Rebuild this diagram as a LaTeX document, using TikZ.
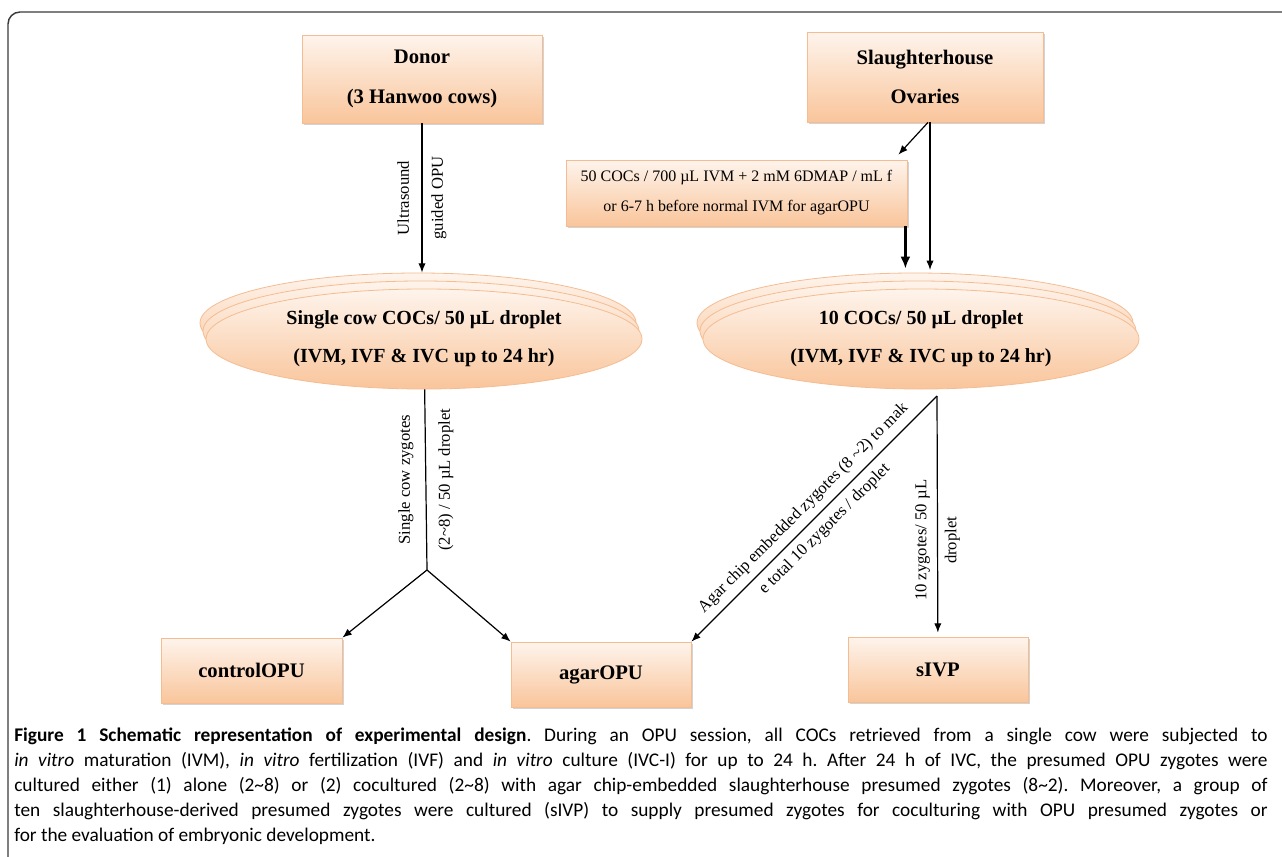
\documentclass[tikz,border=0pt]{standalone}
\usepackage{fontspec}
\setmainfont{Liberation Serif}
\newfontfamily\capfont{Carlito}
\usetikzlibrary{arrows.meta,shapes.geometric,shadows}
\definecolor{peachtop}{HTML}{FEF4EC}
\definecolor{peachbot}{HTML}{F9C59B}
\definecolor{peachline}{HTML}{F5BC91}
\definecolor{framegray}{HTML}{3A3A3A}
\newcommand\pxu{0.75pt}
\frenchspacing
\begin{document}
\begin{tikzpicture}[x=0.75pt,y=-0.75pt]
\tikzset{
  stagebox/.style 2 args={draw=peachline,line width=0.6pt,top color=peachtop,bottom color=peachbot,
    drop shadow={shadow xshift=1.2pt,shadow yshift=-1.2pt,opacity=0.35},
    minimum width=#1*\pxu,minimum height=#2*\pxu,inner sep=0pt,align=center},
  droplet/.style={ellipse,draw=peachline,line width=0.6pt,top color=peachtop,bottom color=peachbot,
    minimum width=436*\pxu,minimum height=100*\pxu,inner sep=0pt,align=center},
  conn/.style={-{Latex[length=7pt,width=5.5pt]},line width=0.9pt},
  lab/.style={font=\fontsize{12.5}{#1}\selectfont,align=center,inner sep=0pt}
}
\useasboundingbox (0,0) rectangle (1282,857);
\draw[framegray,line width=1.1pt,rounded corners=9pt] (8,857) -- (8,12) -- (1282,12);
% sources
\node (donor) at (422,79) [stagebox={240}{88},font=\bfseries\fontsize{15.5}{30}\selectfont] {Donor\\(3 Hanwoo cows)};
\node (slhouse) at (925,77) [stagebox={236}{90},font=\bfseries\fontsize{15.5}{29.25}\selectfont] {Slaughterhouse\\Ovaries};
\node (cocs) at (736.5,193) [stagebox={341}{66},font=\fontsize{12}{22.5}\selectfont] {50 COCs / 700 µL IVM + 2 mM 6DMAP / mL f\\or 6-7 h before normal IVM for agarOPU};
% droplets, three layers each
\node (singleC) at (418,323) [droplet] {};
\node (singleB) at (421,331) [droplet] {};
\node (single) at (424,339) [droplet,font=\bfseries\fontsize{15}{28.5}\selectfont] {Single cow COCs/ 50 µL droplet\\(IVM, IVF \& IVC up to 24 hr)};
\node (tenC) at (915,323) [droplet] {};
\node (tenB) at (918,331) [droplet] {};
\node (ten) at (921,339) [droplet,font=\bfseries\fontsize{15}{28.5}\selectfont] {10 COCs/ 50 µL droplet\\(IVM, IVF \& IVC up to 24 hr)};
% groups
\node (ctrl) at (251.5,670.5) [stagebox={181}{65},font=\bfseries\fontsize{15.5}{18}\selectfont] {controlOPU};
\node (agar) at (601,674.5) [stagebox={180}{65},font=\bfseries\fontsize{15.5}{18}\selectfont] {agarOPU};
\node (sivp) at (938,669.5) [stagebox={180}{65},font=\bfseries\fontsize{15.5}{18}\selectfont] {sIVP};
\coordinate (slout) at ([xshift=3.75pt]slhouse.south);
\coordinate (cocsout) at ([xshift=-1.5pt]cocs.south east);
\coordinate (fork) at (427,570);
\coordinate (split) at (937,396);
% connectors
\draw[conn] (donor) -- (donor |- singleC.north) node[lab=25.5pt,midway,rotate=90] {Ultrasound\\guided OPU};
\draw[conn] ([xshift=2.25pt]slhouse.south) -- ([xshift=-6.75pt,yshift=3.75pt]cocs.north east);
\draw[conn,shorten >=2pt] (slout) -- (slout |- tenC.north);
\draw[-{Latex[length=9pt,width=7.5pt]},line width=1.8pt,shorten >=3pt] (cocsout) -- (cocsout |- tenC.north);
\draw[line width=0.9pt] (single) -- (fork) node[lab=30pt,midway,rotate=90] {Single cow zygotes\\(2\textasciitilde8) / 50 µL droplet};
\draw[conn] (fork) -- (ctrl.north east);
\draw[conn] (fork) -- (agar.north west);
\draw[conn] (split) -- (agar.north east) node[lab=22.5pt,midway,rotate=45] {Agar chip embedded zygotes (8 \textasciitilde2) to mak\\e total 10 zygotes / droplet};
\draw[conn,shorten >=3pt] (split) -- (sivp) node[lab=22.5pt,pos=0.6,rotate=90] {10 zygotes/ 50 µL\\droplet};
% caption
\node (caption) at (14,728) [anchor=north west,text width=940pt,align=justify,inner sep=0pt,font=\capfont\fontsize{14.5}{18.75}\selectfont] {{\bfseries Figure 1 Schematic representation of experimental design}. During an OPU session, all COCs retrieved from a single cow were subjected to\linebreak
\textit{in vitro} maturation (IVM), \textit{in vitro} fertilization (IVF) and \textit{in vitro} culture (IVC-I) for up to 24 h. After 24 h of IVC, the presumed OPU zygotes were\linebreak
cultured either (1) alone (2\textasciitilde8) or (2) cocultured (2\textasciitilde8) with agar chip-embedded slaughterhouse presumed zygotes (8\textasciitilde2). Moreover, a group of\linebreak
ten slaughterhouse-derived presumed zygotes were cultured (sIVP) to supply presumed zygotes for coculturing with OPU presumed zygotes or\linebreak
for the evaluation of embryonic development.};
\end{tikzpicture}
\end{document}
